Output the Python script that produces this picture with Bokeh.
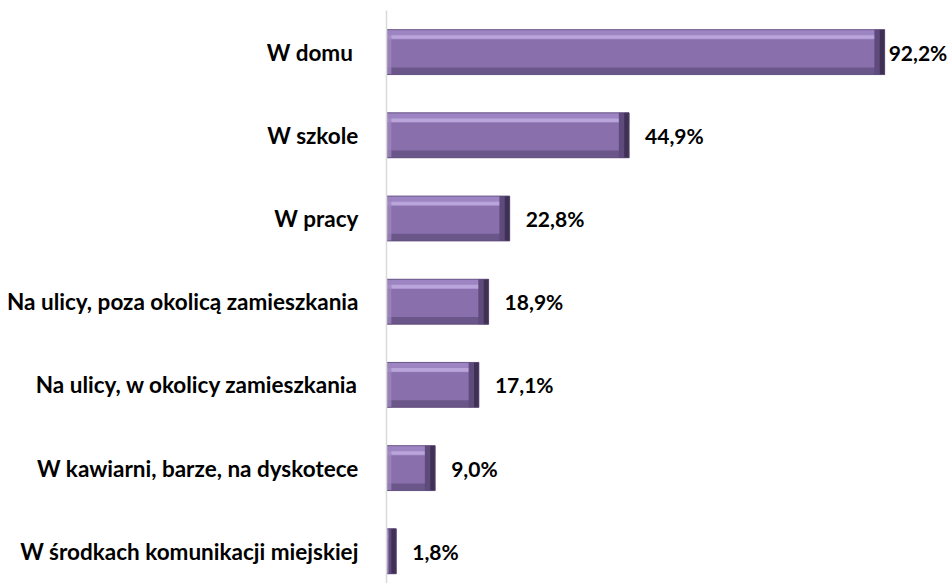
import numpy as np
from bokeh.plotting import figure
from bokeh.models import Range1d, FixedTicker, ColumnDataSource
from bokeh.core.properties import value
from bokeh.embed import file_html
from bokeh.resources import INLINE

categories = [
    "W domu ",
    "W szkole",
    "W pracy",
    "Na ulicy, poza okolicą zamieszkania",
    "Na ulicy, w okolicy zamieszkania",
    "W kawiarni, barze, na dyskotece",
    "W środkach komunikacji miejskiej",
]
values = [92.2, 44.9, 22.8, 18.9, 17.1, 9.0, 1.8]
value_labels = ["92,2%", "44,9%", "22,8%", "18,9%", "17,1%", "9,0%", "1,8%"]

FONT = "Lato"
BAR_H = 0.54

y = np.arange(len(categories), dtype=float)
v = np.array(values)

p = figure(
    width=949, height=583,
    output_backend="svg", toolbar_location=None,
    x_range=Range1d(0, 104.2),
    y_range=Range1d(6.387, -0.5),
    min_border_left=386, min_border_right=0,
    min_border_top=10, min_border_bottom=0,
)
p.outline_line_color = None
p.background_fill_color = "white"
p.border_fill_color = "white"
p.xgrid.visible = False
p.ygrid.visible = False
p.xaxis.visible = False

yax = p.yaxis[0]
yax.ticker = FixedTicker(ticks=list(y))
yax.major_label_overrides = {float(i): c for i, c in enumerate(categories)}
yax.major_tick_line_color = None
yax.minor_tick_line_color = None
yax.axis_line_color = "#d9d9d9"
yax.axis_line_width = 1.5
yax.major_label_standoff = 22
yax.major_label_text_font = FONT
yax.major_label_text_font_style = "bold"
yax.major_label_text_font_size = "22.5px"
yax.major_label_text_color = "black"

# main bar
p.hbar(y=y, left=0, right=v, height=BAR_H, fill_color="#8a6fad", line_color=None)
# top bevel (lighter)
h_top = BAR_H * 0.22
p.hbar(y=y - BAR_H / 2 + h_top / 2, left=0, right=v, height=h_top,
       fill_color="#9d84c2", line_color=None)
# highlight line
h_hl = BAR_H * 0.08
p.hbar(y=y - BAR_H / 2 + h_top * 0.75, left=0, right=v, height=h_hl,
       fill_color="#b9a5d9", line_color=None)
# bottom bevel (darker)
h_bot = BAR_H * 0.16
p.hbar(y=y + BAR_H / 2 - h_bot / 2, left=0, right=v, height=h_bot,
       fill_color="#6b5689", line_color=None)
# left bevel
p.hbar(y=y, left=0, right=np.minimum(v, 0.9), height=BAR_H,
       fill_color="#9c86bd", line_color=None, fill_alpha=0.8)
# right bevel (dark, two steps)
p.hbar(y=y, left=np.maximum(v - 1.9, 0.4), right=v, height=BAR_H,
       fill_color="#5e4a7b", line_color=None)
p.hbar(y=y, left=np.maximum(v - 0.9, 0.4), right=v, height=BAR_H,
       fill_color="#3f3154", line_color=None)
# outline
p.hbar(y=y, left=0, right=v, height=BAR_H, fill_color=None,
       line_color="#5a4776", line_width=0.8)

offsets = [4 if val == max(values) else 16 for val in values]
src = ColumnDataSource(dict(x=v, y=y, t=value_labels, off=offsets))
p.text(x="x", y="y", text="t", x_offset="off", source=src,
       text_font=value(FONT), text_font_style="bold", text_font_size="21px",
       text_baseline="middle", text_align="left", text_color="black")

open("out.html", "w").write(file_html(p, INLINE))
